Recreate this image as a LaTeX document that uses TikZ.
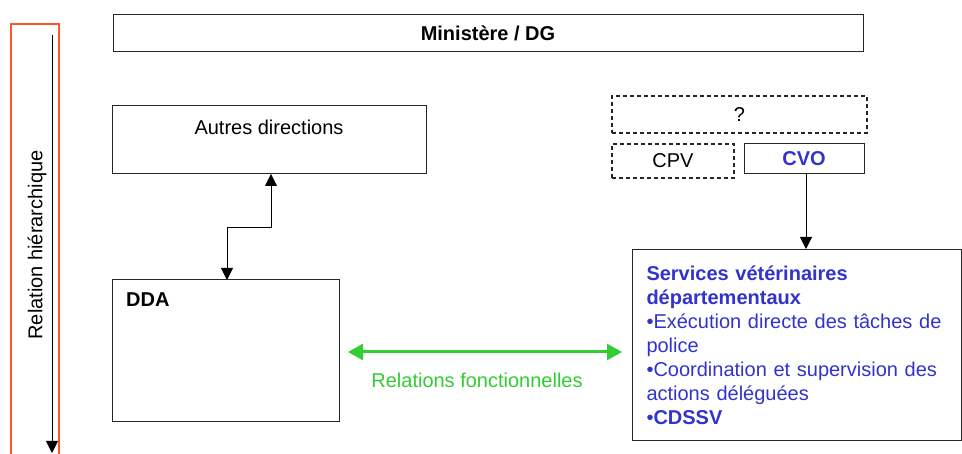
\documentclass[tikz,border=0pt]{standalone}
\usepackage{fontspec}
\setmainfont{Liberation Sans}
\usetikzlibrary{arrows.meta}
\definecolor{vblue}{RGB}{51,51,204}
\definecolor{vgreen}{RGB}{50,205,50}
\definecolor{framered}{RGB}{255,85,45}
\begin{document}
\begin{tikzpicture}[x=1pt,y=-1pt,
  every node/.style={font=\fontsize{20}{24}\selectfont},
  box/.style={draw=black!85, line width=1pt, inner sep=0pt, rectangle},
  dbox/.style={box, dashed, dash pattern=on 4pt off 3pt, line width=1.3pt},
  arr/.style={line width=1pt, -{Triangle[width=12pt,length=12pt]}},
  darr/.style={line width=1pt, {Triangle[width=12pt,length=12pt]}-{Triangle[width=12pt,length=12pt]}},
  garr/.style={draw=vgreen, line width=3pt, {Triangle[width=16pt,length=15pt]}-{Triangle[width=16pt,length=15pt]}}
]
\useasboundingbox (0,0) rectangle (962,454);
\fill[white] (0,0) rectangle (962,454);

% left frame
\draw[framered, line width=1.4pt] (11,460) -- (11,24) -- (59,24) -- (59,460);
\coordinate (htop) at (52,35);
\coordinate (hbot) at (52,453);
\draw[arr] (htop) -- (hbot);
\node[rotate=90] (hlab) at (37,245) {Relation hiérarchique};

% boxes
\node[box, minimum width=750pt, minimum height=37pt, font=\fontsize{20}{24}\selectfont\bfseries] (min) at (488,33.5) {Ministère / DG};

\node[box, minimum width=314pt, minimum height=68pt] (autres) at (269,140) {};
\node[anchor=center, inner sep=0pt] (autreslab) at (269,127) {Autres directions};

\node[box, minimum width=227pt, minimum height=142pt] (dda) at (225.5,351) {};
\node[anchor=west, inner sep=0pt, font=\fontsize{20}{24}\selectfont\bfseries] (ddalab) at (126,300) {DDA};

\node[dbox, minimum width=255pt, minimum height=37pt] (q) at (739.5,114.5) {?};
\node[dbox, minimum width=122pt, minimum height=34pt] (cpv) at (673,161) {CPV};
\node[box, minimum width=120pt, minimum height=30pt, text=vblue, font=\fontsize{20}{24}\selectfont\bfseries] (cvo) at (804,159) {CVO};

\node[box, anchor=north west, minimum height=191pt, inner xsep=14pt, text width=301pt, align=left, text=vblue] (svd) at (632,249)
{\textbf{Services vétérinaires}\\\textbf{départementaux}\\•Exécution directe des tâches de\\police\\•Coordination et supervision des\\actions déléguées\\•\textbf{CDSSV}};

% connectors
\coordinate (ddaup) at (227,280);
\coordinate (bend1) at (227,228);
\coordinate (bend2) at (271,228);
\coordinate (autdown) at (271,174);
\draw[darr] (ddaup) -- (bend1) -- (bend2) -- (autdown);

\draw[arr] (cvo.south -| 806,0) -- (svd.north -| 806,0);

\coordinate (gl) at (348,352);
\coordinate (gr) at (622,352);
\draw[garr] (gl) -- (gr);
\node[text=vgreen] (glab) at (477,380) {Relations fonctionnelles};
\end{tikzpicture}
\end{document}
